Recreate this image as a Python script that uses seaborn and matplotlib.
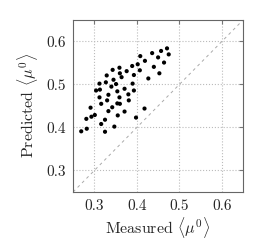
import pandas as pd
import matplotlib
matplotlib.use("Agg")
import matplotlib.pyplot as plt
import seaborn as sns

# values
measured = [0.269, 0.282, 0.281, 0.291, 0.293, 0.301, 0.304, 0.312, 0.313, 0.312,
            0.316, 0.329, 0.327, 0.330, 0.333, 0.333, 0.316, 0.325, 0.325, 0.343,
            0.345, 0.340, 0.342, 0.347, 0.351, 0.354, 0.354, 0.355, 0.359, 0.360,
            0.364, 0.359, 0.360, 0.371, 0.371, 0.376, 0.380, 0.381, 0.389, 0.393,
            0.390, 0.393, 0.398, 0.402, 0.407, 0.408, 0.419, 0.418, 0.427, 0.436,
            0.440, 0.450, 0.453, 0.457, 0.464, 0.471, 0.475]
predicted = [0.391, 0.397, 0.420, 0.446, 0.425, 0.429, 0.486, 0.502, 0.488, 0.470,
             0.455, 0.521, 0.505, 0.463, 0.476, 0.438, 0.408, 0.418, 0.390, 0.534,
             0.511, 0.495, 0.447, 0.402, 0.501, 0.484, 0.456, 0.428, 0.539, 0.526,
             0.517, 0.470, 0.455, 0.437, 0.490, 0.531, 0.477, 0.463, 0.543, 0.522,
             0.502, 0.486, 0.423, 0.547, 0.533, 0.566, 0.555, 0.444, 0.514, 0.573,
             0.541, 0.563, 0.526, 0.578, 0.551, 0.584, 0.570]
ticks = [0.3, 0.4, 0.5, 0.6]
limits = (0.25, 0.65)

df = pd.DataFrame({'Measured': measured, 'Predicted': predicted})

sns.set_style('white')
plt.rcParams['font.family'] = 'serif'
plt.rcParams['font.serif'] = ['cmr10', 'DejaVu Serif']
plt.rcParams['mathtext.fontset'] = 'cm'
plt.rcParams['axes.formatter.use_mathtext'] = True

fig = plt.figure(figsize=(2.74, 2.47), dpi=100)
ax = fig.add_axes([0.267, 0.223, 0.62, 0.696])

# diagonal y = x
ax.plot(limits, limits, color='#aaaaaa', lw=0.7, ls=(0, (3, 3.5)), zorder=1)
sns.scatterplot(data=df, x='Measured', y='Predicted', color='black', s=9,
                edgecolor='none', ax=ax, zorder=3)

ax.set_xlim(limits)
ax.set_ylim(limits)
ax.set_xticks(ticks)
ax.set_yticks(ticks)
ax.set_xticklabels([f'{t:.1f}' for t in ticks])
ax.set_yticklabels([f'{t:.1f}' for t in ticks])
ax.grid(True, color='#bbbbbb', ls=':', lw=0.8)
ax.tick_params(direction='in', length=3, width=0.8, color='#777777',
               top=True, right=True, labelsize=11, pad=5)
for sp in ax.spines.values():
    sp.set_color('#666666')
    sp.set_linewidth(0.8)

ax.set_xlabel(r'Measured $\langle \mu^0 \rangle$', fontsize=11.5, labelpad=2)
ax.set_ylabel(r'Predicted $\langle \mu^0 \rangle$', fontsize=11.5, labelpad=5)

fig.savefig('out.png', dpi=100)
